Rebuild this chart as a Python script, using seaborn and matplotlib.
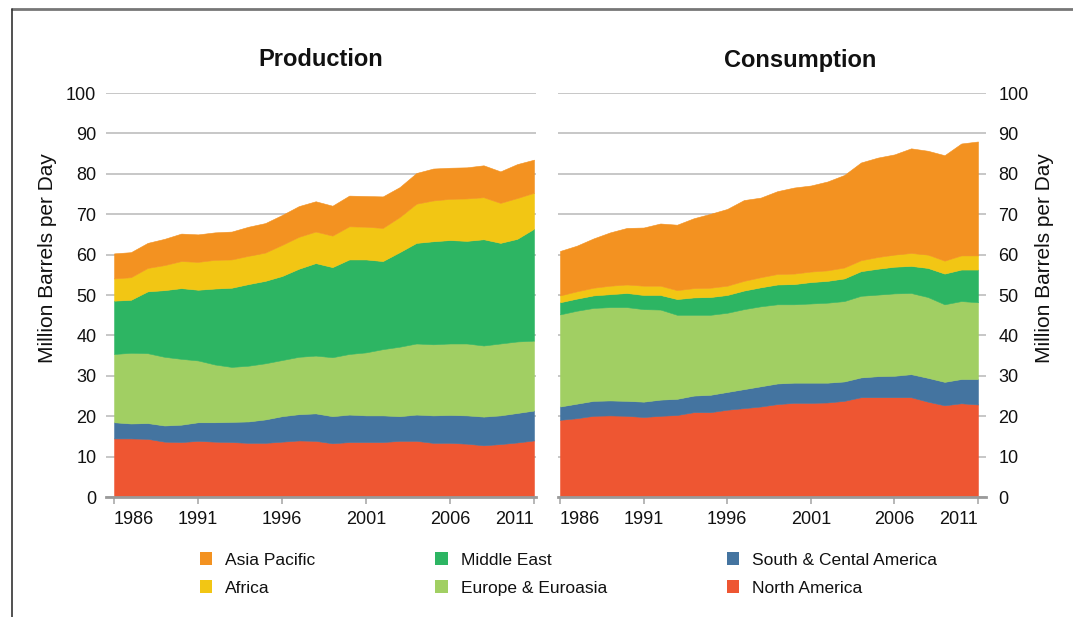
import numpy as np
import pandas as pd
import seaborn as sns
import matplotlib.pyplot as plt
from matplotlib.patches import Patch
from matplotlib.lines import Line2D

# годы
years = list(range(1986, 2012))

# Добыча (млн баррелей в день), снизу вверх
prod_north_america = [14.5, 14.5, 14.4, 13.7, 13.6, 13.9, 13.7, 13.6, 13.4, 13.4, 13.7, 14.0, 13.9,
                      13.3, 13.6, 13.6, 13.6, 13.9, 13.9, 13.4, 13.4, 13.2, 12.8, 13.1, 13.5, 14.0]
prod_south_america = [4.0, 3.7, 3.9, 4.0, 4.3, 4.6, 4.8, 5.0, 5.3, 5.8, 6.3, 6.5, 6.8,
                      6.7, 6.8, 6.6, 6.6, 6.1, 6.5, 6.8, 6.9, 7.0, 7.1, 7.1, 7.3, 7.4]
prod_europe = [16.9, 17.5, 17.3, 17.0, 16.3, 15.3, 14.3, 13.6, 13.8, 13.9, 13.9, 14.2, 14.3,
               14.6, 15.0, 15.6, 16.4, 17.2, 17.6, 17.6, 17.7, 17.8, 17.6, 17.8, 17.7, 17.3]
prod_middle_east = [13.2, 13.1, 15.3, 16.5, 17.5, 17.5, 18.8, 19.6, 20.2, 20.4, 20.8, 21.8, 22.9,
                    22.3, 23.4, 23.0, 21.8, 23.4, 24.9, 25.5, 25.6, 25.4, 26.3, 24.9, 25.4, 27.7]
prod_africa = [5.5, 5.6, 5.8, 6.2, 6.7, 6.9, 7.1, 7.0, 7.0, 7.0, 7.7, 7.9, 7.8,
               7.8, 8.2, 8.1, 8.2, 8.7, 9.7, 10.1, 10.2, 10.5, 10.4, 9.9, 10.1, 8.9]
prod_asia = [6.2, 6.2, 6.2, 6.5, 6.8, 6.8, 6.8, 6.9, 7.2, 7.3, 7.4, 7.6, 7.5,
             7.4, 7.6, 7.6, 7.8, 7.4, 7.6, 7.9, 7.7, 7.7, 7.9, 7.8, 8.4, 8.2]

# Потребление
cons_north_america = [19.1, 19.5, 20.1, 20.2, 20.1, 19.8, 20.1, 20.3, 21.0, 21.0, 21.6, 22.0, 22.4,
                      23.0, 23.3, 23.3, 23.4, 23.8, 24.7, 24.7, 24.7, 24.7, 23.6, 22.7, 23.2, 22.9]
cons_south_america = [3.3, 3.6, 3.7, 3.7, 3.7, 3.8, 4.0, 4.0, 4.1, 4.3, 4.4, 4.7, 5.0,
                      5.1, 5.0, 5.0, 4.9, 4.8, 4.9, 5.2, 5.3, 5.7, 5.9, 5.8, 6.0, 6.3]
cons_europe = [22.8, 23.0, 23.0, 23.1, 23.2, 22.9, 22.3, 20.8, 20.0, 19.8, 19.6, 19.8, 19.8,
               19.6, 19.4, 19.6, 19.8, 19.9, 20.2, 20.2, 20.4, 20.1, 20.0, 19.2, 19.3, 19.0]
cons_middle_east = [3.0, 3.0, 3.1, 3.2, 3.5, 3.5, 3.6, 3.9, 4.3, 4.4, 4.4, 4.6, 4.7,
                    4.9, 5.0, 5.3, 5.4, 5.6, 6.1, 6.4, 6.6, 6.7, 7.2, 7.6, 7.8, 8.1]
cons_africa = [1.7, 1.8, 1.9, 2.1, 2.1, 2.3, 2.3, 2.2, 2.3, 2.3, 2.3, 2.4, 2.5,
               2.6, 2.6, 2.6, 2.6, 2.7, 2.7, 2.9, 3.0, 3.2, 3.3, 3.2, 3.5, 3.5]
cons_asia = [11.0, 11.3, 12.2, 13.2, 14.0, 14.4, 15.4, 16.2, 17.3, 18.3, 19.0, 20.0, 19.7,
             20.5, 21.3, 21.3, 22.0, 22.9, 24.2, 24.6, 24.8, 25.9, 25.7, 26.1, 27.7, 28.2]

regions = ['North America', 'South & Cental America', 'Europe & Euroasia',
           'Middle East', 'Africa', 'Asia Pacific']
year_ticks = [1986, 1991, 1996, 2001, 2006, 2011]
y_ticks = list(range(0, 101, 10))

prod = pd.DataFrame(dict(zip(regions, [prod_north_america, prod_south_america, prod_europe,
                                       prod_middle_east, prod_africa, prod_asia])), index=years)
cons = pd.DataFrame(dict(zip(regions, [cons_north_america, cons_south_america, cons_europe,
                                       cons_middle_east, cons_africa, cons_asia])), index=years)

colors = {'North America': '#EE5632', 'South & Cental America': '#4474A0',
          'Europe & Euroasia': '#A1CF63', 'Middle East': '#2DB563',
          'Africa': '#F2C614', 'Asia Pacific': '#F39221'}

sns.set_theme(style='white')
plt.rcParams['font.family'] = ['Liberation Sans', 'DejaVu Sans']

fig = plt.figure(figsize=(10.73, 6.17), dpi=100)
W, H = 1073, 617

def px_axes(x0, x1, y_top, y_bot):
    return fig.add_axes([x0 / W, 1 - y_bot / H, (x1 - x0) / W, (y_bot - y_top) / H])

ax1 = px_axes(106, 536, 93, 497)
ax2 = px_axes(558, 986, 93, 497)

for ax, df, xlim in [(ax1, prod, (1985.52, 2011.12)), (ax2, cons, (1985.88, 2011.48))]:
    ax.stackplot(df.index, [df[r] for r in regions], colors=[colors[r] for r in regions],
                 linewidth=0.4, edgecolor='face', zorder=3)
    ax.set_xlim(*xlim)
    ax.set_ylim(0, 100)
    ax.set_yticks(y_ticks)
    ax.set_xticks(year_ticks)
    ax.grid(axis='y', color='#BDBDBD', linewidth=1.2, zorder=0)
    ax.grid(axis='x', visible=False)
    for s in ['top', 'left', 'right']:
        ax.spines[s].set_visible(False)
    ax.spines['bottom'].set_color('#9A9A9A')
    ax.spines['bottom'].set_linewidth(2)
    ax.spines['bottom'].set_zorder(4)
    ax.tick_params(axis='x', bottom=True, length=5, width=1.2, color='#AAAAAA',
                   labelsize=13, pad=5, labelcolor='#111111')
    ax.tick_params(axis='y', length=0, labelsize=13, labelcolor='#111111')
    # крайние подписи лет сдвинуты внутрь, как в оригинале
    labels = ax.get_xticklabels()
    labels[0].set_horizontalalignment('left')
    labels[-1].set_horizontalalignment('right')

ax1.tick_params(axis='y', pad=7)
ax2.yaxis.tick_right()
ax2.tick_params(axis='y', left=False, right=False, labelleft=False, labelright=True, pad=9)

fig.text(321 / W, 1 - 60 / H, 'Production', ha='center', va='center',
         fontsize=17, fontweight='bold', color='#111111')
fig.text(800 / W, 1 - 60 / H, 'Consumption', ha='center', va='center',
         fontsize=17, fontweight='bold', color='#111111')
fig.text(48 / W, 1 - 258 / H, 'Million Barrels per Day', rotation=90, ha='center',
         va='center', fontsize=15, color='#111111')
fig.text(1045 / W, 1 - 258 / H, 'Million Barrels per Day', rotation=90, ha='center',
         va='center', fontsize=15, color='#111111')

# легенда
legend_order = ['Asia Pacific', 'Africa', 'Middle East', 'Europe & Euroasia',
                'South & Cental America', 'North America']
handles = [Patch(facecolor=colors[r], edgecolor='none', label=r) for r in legend_order]
fig.legend(handles=handles, loc='center left', bbox_to_anchor=(184 / W, 1 - 574 / H),
           ncol=3, frameon=False, fontsize=12.5, handlelength=0.72, handleheight=0.72,
           handletextpad=0.75, columnspacing=6.9, labelspacing=0.72, labelcolor='#111111')

# рамка
fig.add_artist(Line2D([12 / W, 1], [1 - 9 / H, 1 - 9 / H], color='#777777', linewidth=2))
fig.add_artist(Line2D([12 / W, 12 / W], [0, 1 - 9 / H], color='#333333', linewidth=1.2))

fig.savefig('out.png', dpi=100)
